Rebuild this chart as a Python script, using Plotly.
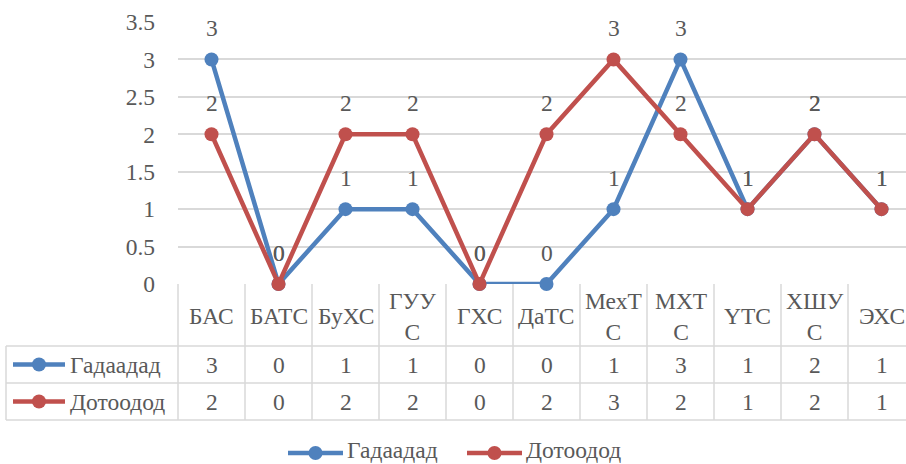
import plotly.graph_objects as go

categories = ["БАС", "БАТС", "БуХС", "ГУУ<br>С", "ГХС", "ДаТС", "МехТ<br>С", "МХТ<br>С", "ҮТС", "ХШУ<br>С", "ЭХС"]
series_names = ["Гадаадад", "Дотоодод"]
gadaadad = [3, 0, 1, 1, 0, 0, 1, 3, 1, 2, 1]
dotoodod = [2, 0, 2, 2, 0, 2, 3, 2, 1, 2, 1]
colors = ["#4F81BD", "#C0504D"]
y_ticks = [0, 0.5, 1, 1.5, 2, 2.5, 3, 3.5]

W, H = 906, 464
L, R, T, B = 178, 906, 22, 284
COL = 67.0
n = len(categories)
FONT = "Liberation Serif, Times New Roman, Tinos"
TXT = "#595959"
GRID = "#D9D9D9"
FS = 23.5

def px_x(x):
    return (x - L) / (R - L)

def px_y(y):
    return (B - y) / (B - T)

def txt(text, x, y, xanchor="center", **kw):
    fig.add_annotation(x=px_x(x), y=px_y(y), xref="paper", yref="paper", text=text,
                       showarrow=False, xanchor=xanchor, yanchor="middle",
                       font=dict(family=FONT, size=FS, color=TXT), **kw)

fig = go.Figure()
xs = list(range(n))
series = [gadaadad, dotoodod]
for name, vals, col in zip(series_names, series, colors):
    fig.add_trace(go.Scatter(
        x=xs, y=vals, name=name, mode="lines+markers",
        line=dict(color=col, width=4.5),
        marker=dict(color=col, size=14),
        cliponaxis=False, showlegend=False))
    for i, v in enumerate(vals):
        fig.add_annotation(x=i, y=v, xref="x", yref="y", text=str(v),
                           showarrow=False, yshift=31, xanchor="center", yanchor="middle",
                           font=dict(family=FONT, size=FS, color=TXT))

shapes = []
line_style = dict(color=GRID, width=1.5)
row_top, row1, row2, row3 = 284, 346, 383, 420
left_tab = 6
for yy in [row1, row2, row3]:
    shapes.append(dict(type="line", xref="paper", yref="paper",
                       x0=px_x(left_tab), x1=1.0, y0=px_y(yy), y1=px_y(yy), line=line_style))
shapes.append(dict(type="line", xref="paper", yref="paper",
                   x0=px_x(left_tab), x1=px_x(left_tab), y0=px_y(row1), y1=px_y(row3), line=line_style))
for k in range(n + 1):
    xx = L + COL * k
    if xx > W:
        continue
    shapes.append(dict(type="line", xref="paper", yref="paper",
                       x0=px_x(xx), x1=px_x(xx), y0=px_y(row_top), y1=px_y(row3), line=line_style))

def legend_key(x0, x1, yc, col):
    shapes.append(dict(type="line", xref="paper", yref="paper",
                       x0=px_x(x0), x1=px_x(x1), y0=px_y(yc), y1=px_y(yc),
                       line=dict(color=col, width=4.5)))
    xm = (x0 + x1) / 2
    r = 7
    shapes.append(dict(type="circle", xref="paper", yref="paper",
                       x0=px_x(xm - r), x1=px_x(xm + r), y0=px_y(yc + r), y1=px_y(yc - r),
                       fillcolor=col, line=dict(color=col, width=0)))

for i, c in enumerate(categories):
    txt(c, L + COL * (i + 0.5), (row_top + row1) / 2 + 1, align="center")

row_centers = [(row1 + row2) / 2, (row2 + row3) / 2]
for si, (name, vals, col) in enumerate(zip(series_names, series, colors)):
    yc = row_centers[si]
    legend_key(13, 65, yc, col)
    txt(name, 68, yc, xanchor="left")
    for i, v in enumerate(vals):
        txt(str(v), L + COL * (i + 0.5), yc)

leg_y = 453
for (x0, x1), name, col in zip([(288, 343), (467, 522)], series_names, colors):
    legend_key(x0, x1, leg_y, col)
    txt(name, x1 + 2, leg_y - 3, xanchor="left")

fig.update_layout(
    width=W, height=H,
    margin=dict(l=L, r=W - R, t=T, b=H - B, pad=0),
    paper_bgcolor="white", plot_bgcolor="white",
    font=dict(family=FONT, size=FS, color=TXT),
    shapes=shapes, showlegend=False,
    xaxis=dict(range=[-0.5, (R - L) / COL - 0.5], showgrid=False, zeroline=False,
               showticklabels=False, showline=False, fixedrange=True),
    yaxis=dict(range=[0, 3.5], tickvals=y_ticks, ticktext=[f"{t:g}" for t in y_ticks],
               showgrid=True, gridcolor=GRID, gridwidth=1.5, zeroline=False,
               showline=False, ticks="", ticklabelstandoff=22,
               tickfont=dict(family=FONT, size=FS, color=TXT), fixedrange=True),
)
fig.write_html("out.html", config={"displayModeBar": False},
               post_script="document.body.style.margin='0px';document.body.style.padding='0px';")
